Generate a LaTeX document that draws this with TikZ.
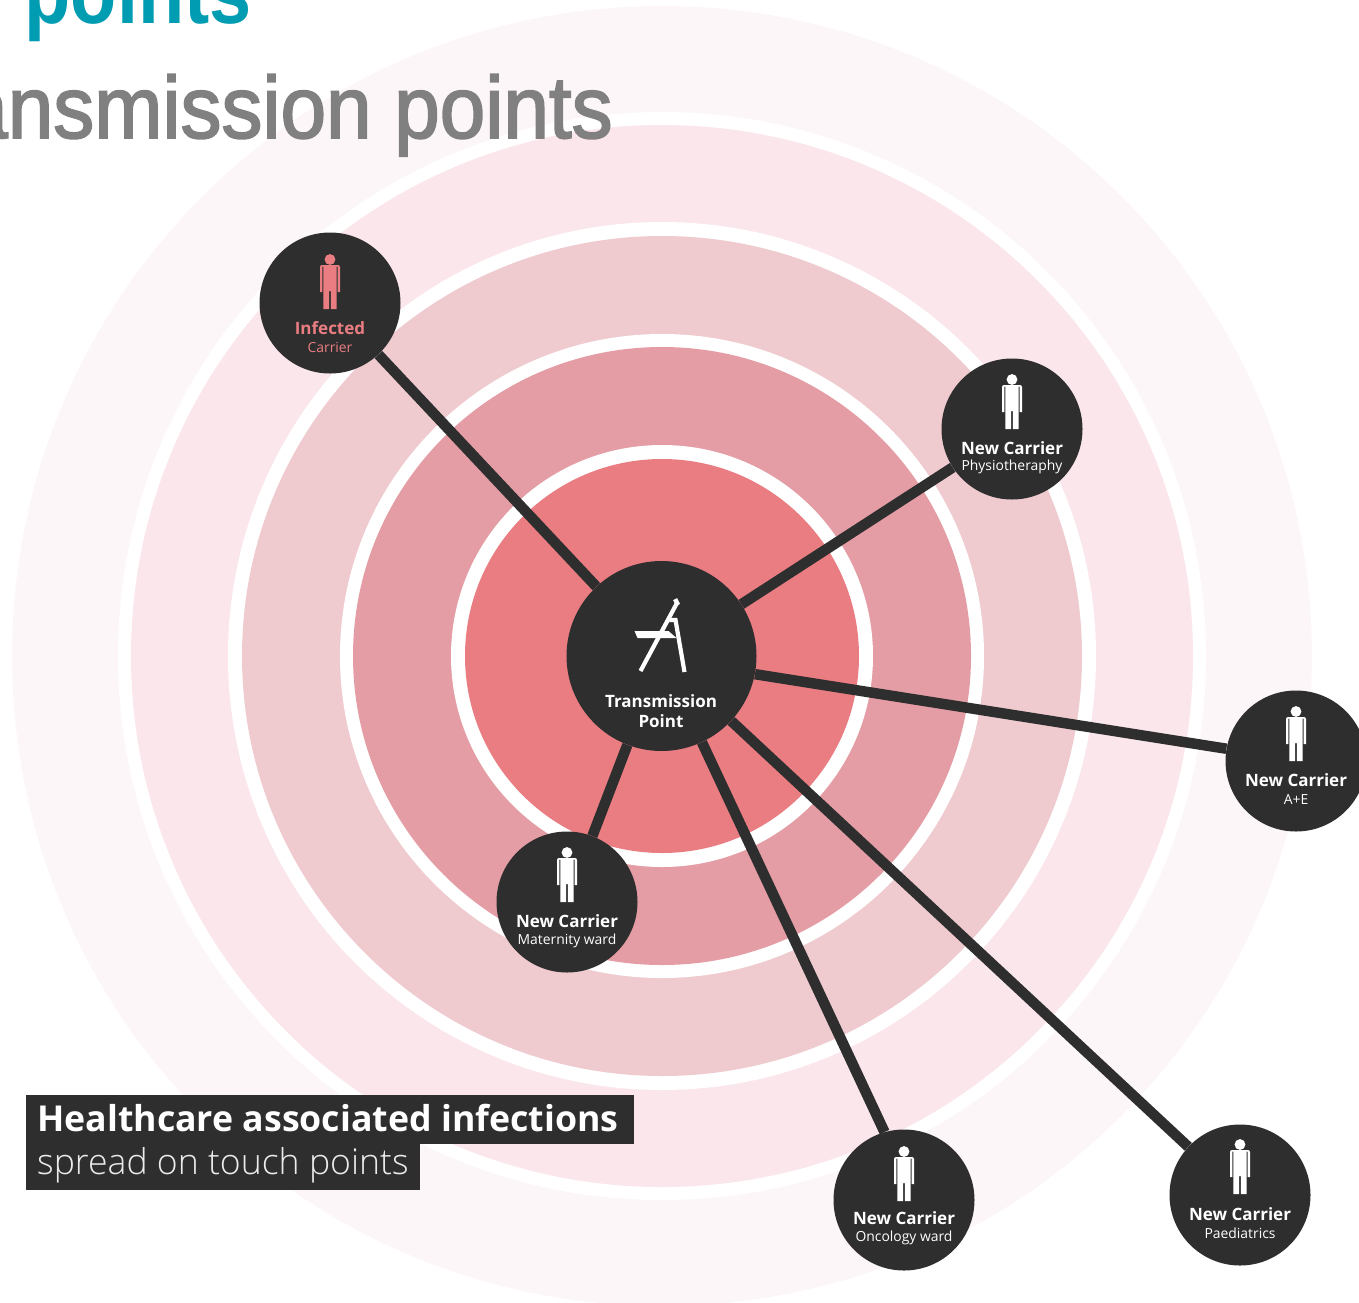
\documentclass[tikz,border=0pt]{standalone}
\usepackage{fontspec}
\setmainfont{Open Sans}
\newfontfamily\lightfont{Open Sans Light}
\newfontfamily\titlefont[FakeStretch=0.86]{Liberation Sans}
\newfontfamily\subtitlefont[FakeStretch=0.93, FakeBold=2]{Liberation Sans}
\usetikzlibrary{calc, positioning}
\definecolor{darkdisc}{HTML}{2E2E2E}
\definecolor{ringa}{HTML}{EA7D82}
\definecolor{ringb}{HTML}{E49DA5}
\definecolor{ringc}{HTML}{EFCBCF}
\definecolor{ringd}{HTML}{FBE6EB}
\definecolor{ringe}{HTML}{FDF6F8}
\definecolor{titleteal}{HTML}{009CB1}
\definecolor{titlegray}{HTML}{808080}

\begin{document}
\begin{tikzpicture}[
    x=1pt,
    y=1pt,
    person/.pic = {
        \fill (0, 49.5) circle (5.4);
        \fill (-6.6, 44) -- (6.6, 44) -- (6.6, 0) -- (0.9, 0) -- (0.9, 18)
            -- (-0.9, 18) -- (-0.9, 0) -- (-6.6, 0) -- cycle;
        \fill (-10, 42) arc (180:90:2) -- (-6, 44) -- (-6, 42.5) -- (-7.6, 42.5)
            -- (-7.6, 17) -- (-10, 17) -- cycle;
        \fill (10, 42) arc (0:90:2) -- (6, 44) -- (6, 42.5) -- (7.6, 42.5)
            -- (7.6, 17) -- (10, 17) -- cycle;
    },
    chair/.pic = {
        \draw [line width=4.2pt] (16, 54) -- (-21, -15);
        \draw [line width=6.5pt] (13, 53) -- (17, 55);
        \draw [line width=4.2pt] (6, 36) -- (14, 36) -- (23, -16);
        \fill (-27, 25) -- (7, 25) -- (15, 18) -- (-24, 18) -- cycle;
    },
    disc/.style = {
        circle,
        fill=darkdisc,
        inner sep=0pt,
    },
    carrier/.style = {
        disc,
        minimum size=141pt,
    },
    hub/.style = {
        disc,
        minimum size=190pt,
    },
    link/.style = {
        draw=darkdisc,
        line width=10.5pt,
    },
    cname/.style = {
        inner sep=0pt,
        font=\fontsize{17}{18}\selectfont\bfseries,
    },
    cward/.style = {
        inner sep=0pt,
        font=\fontsize{13.9}{16}\selectfont,
    },
    tag/.style = {
        fill=darkdisc,
        text=white,
        anchor=north west,
        inner sep=0pt,
        text depth=0pt,
    },
]
\useasboundingbox (0, 0) rectangle (1359, -1302);
\coordinate (c) at (662, -656);
% rings
\fill [ringe] (c) circle (650);
\fill [white] (c) circle (544);
\fill [ringd] (c) circle (531);
\fill [white] (c) circle (434);
\fill [ringc] (c) circle (420);
\fill [white] (c) circle (322);
\fill [ringb] (c) circle (309);
\fill [white] (c) circle (211);
\fill [ringa] (c) circle (197);
% title
\node (title-top) [anchor=base east, inner sep=0pt, text=titleteal, font=\fontsize{88}{90}\titlefont\bfseries] at (252, -23) {r points};
\node (title-sub) [anchor=base east, inner sep=0pt, text=titlegray, font=\fontsize{88}{90}\subtitlefont] at (613, -138) {ansmission points};
% nodes
\node (hub) [hub] at (661.5, -656) {};
\node (infected) [carrier] at (330, -303) {};
\node (physio) [carrier] at (1012, -429) {};
\node (ae) [carrier] at (1296, -761) {};
\node (maternity) [carrier] at (567, -902) {};
\node (oncology) [carrier] at (904, -1200) {};
\node (paeds) [carrier] at (1240, -1195) {};
% links
\path [link] (hub) -- (infected);
\path [link] (hub) -- (physio);
\path [link] (hub.-11) -- (ae.170);
\path [link] (hub) -- (maternity);
\path [link] (hub) -- (oncology.106);
\path [link] (hub) -- (paeds);
% icons
\pic [white] at (hub) {chair};
\pic [ringa] at ($(infected) + (0, -6)$) {person};
\pic [white] at (physio) {person};
\pic [white] at (ae) {person};
\pic [white] at (maternity) {person};
\pic [white] at ($(oncology) + (0, -1)$) {person};
\pic [white] at ($(paeds) + (0, 1)$) {person};
% labels
\node (hub-a) [cname, text=white] at ($(hub) + (-0.5, -45)$) {Transmission};
\node (hub-b) [cname, text=white] at ($(hub) + (-0.5, -65)$) {Point};
\node (infected-a) [cname, text=ringa] at ($(infected) + (0, -25)$) {Infected};
\node (infected-b) [cward, text=ringa] at ($(infected) + (0, -44)$) {Carrier};
\node (physio-a) [cname, text=white] at ($(physio) + (0, -19)$) {New Carrier};
\node (physio-b) [cward, text=white] at ($(physio) + (0, -37.5)$) {Physiotheraphy};
\node (ae-a) [cname, text=white] at ($(ae) + (0, -19)$) {New Carrier};
\node (ae-b) [cward, text=white] at ($(ae) + (0, -39)$) {A+E};
\node (maternity-a) [cname, text=white] at ($(maternity) + (0, -19)$) {New Carrier};
\node (maternity-b) [cward, text=white] at ($(maternity) + (0, -39)$) {Maternity ward};
\node (oncology-a) [cname, text=white] at ($(oncology) + (0, -18)$) {New Carrier};
\node (oncology-b) [cward, text=white] at ($(oncology) + (0, -38)$) {Oncology ward};
\node (paeds-a) [cname, text=white] at ($(paeds) + (0, -19)$) {New Carrier};
\node (paeds-b) [cward, text=white] at ($(paeds) + (0, -38)$) {Paediatrics};
% tag
\node (tag-b) [tag, minimum height=46pt, minimum width=394pt] at (26, -1144) {};
\node (tag-a) [tag, minimum height=49pt, minimum width=608pt] at (26, -1095) {};
\node (tag-atext) [anchor=base west, inner sep=0pt, text=white, font=\fontsize{35.7}{36}\selectfont\bfseries] at (37, -1131) {Healthcare associated infections};
\node (tag-btext) [anchor=base west, inner sep=0pt, text=white!92!black, font=\fontsize{35.6}{36}\lightfont] at (37, -1174) {spread on touch points};
\end{tikzpicture}
\end{document}
